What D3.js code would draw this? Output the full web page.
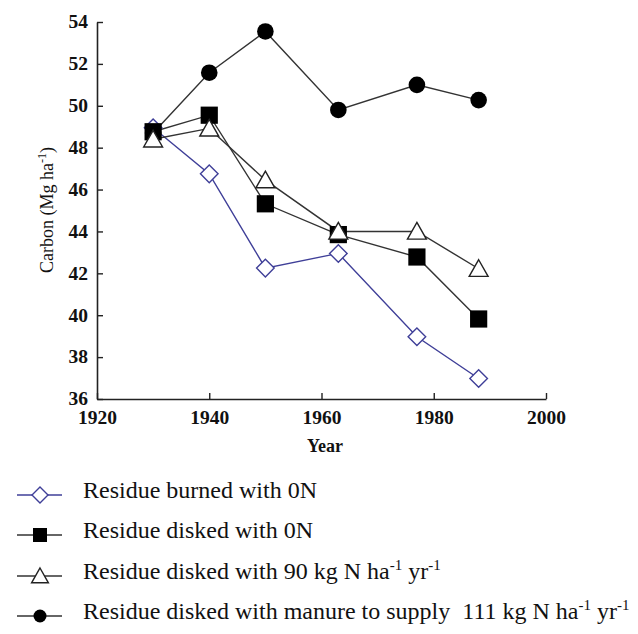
<!DOCTYPE html>
<html lang="en">
<head>
  <meta charset="UTF-8">
  <title>Carbon by year</title>
  <script src="https://d3js.org/d3.v7.min.js"></script>
  <style>
    body { margin: 0; background: #fff; overflow: hidden; }
    text { font-family: "Liberation Serif", "DejaVu Serif", serif; }
  </style>
</head>
<body>
<div class="main"></div>
<script>

  // data
  var years = [1930, 1940, 1950, 1963, 1977, 1988];
  var burned0N = [48.95, 46.75, 42.25, 42.95, 38.97, 36.98];
  var disked0N = [48.76, 49.55, 45.32, 43.85, 42.78, 39.82];
  var disked90N = [48.4, 48.92, 46.45, 44.0, 44.0, 42.22];
  var manure111N = [48.7, 51.58, 53.55, 49.8, 51.0, 50.27];
  var xTicks = [1920, 1940, 1960, 1980, 2000];
  var yTicks = [36, 38, 40, 42, 44, 46, 48, 50, 52, 54];

  var width = 638, height = 634;

  var svg = d3.select(".main").append("svg")
          .attr("width", width)
          .attr("height", height);

  var xScale = d3.scaleLinear().domain([1920, 2000]).range([97, 546]);
  var yScale = d3.scaleLinear().domain([36, 54]).range([399, 22]);

  var xAxis = d3.axisBottom(xScale).tickValues(xTicks).tickFormat(d3.format("d"))
          .tickSizeInner(-6).tickSizeOuter(0).tickPadding(11);
  var yAxis = d3.axisLeft(yScale).tickValues(yTicks)
          .tickSizeInner(-6).tickSizeOuter(0).tickPadding(9);

  function drawAxis(axis, translate) {
    var g = svg.append("g").attr("transform", translate).call(axis);
    g.select(".domain").attr("stroke", "#222").attr("stroke-width", 1.6);
    g.selectAll(".tick line").attr("stroke", "#222").attr("stroke-width", 1.4);
    g.selectAll(".tick text").attr("fill", "#111")
            .style("font-size", "19.5px").style("font-weight", "bold")
            .style("font-family", "'Liberation Serif', serif");
    return g;
  }
  drawAxis(xAxis, "translate(0,399)");
  var yg = drawAxis(yAxis, "translate(97,0)");
  yg.selectAll(".tick text").attr("dy", "0.3em");

  svg.append("text").attr("x", 325).attr("y", 452).attr("text-anchor", "middle")
          .style("font-size", "18px").style("font-weight", "bold").attr("fill", "#111").text("Year");

  var yLabel = svg.append("text").attr("transform", "translate(53,210) rotate(-90)")
          .attr("text-anchor", "middle").style("font-size", "18px").attr("fill", "#111");
  yLabel.append("tspan").text("Carbon (Mg ha");
  yLabel.append("tspan").attr("dy", -7).style("font-size", "12px").text("-1");
  yLabel.append("tspan").attr("dy", 7).text(")");

  var blue = "#3f3f98", dark = "#333";

  var series = [
    {values: burned0N, color: blue, shape: "diamond"},
    {values: disked0N, color: dark, shape: "square"},
    {values: disked90N, color: dark, shape: "triangle"},
    {values: manure111N, color: dark, shape: "circle"}
  ];

  var line = d3.line()
          .x(function(d, i) { return xScale(years[i]); })
          .y(function(d) { return yScale(d); });

  // s = half size of the marker
  function marker(g, shape, color, x, y, s) {
    if (shape == "diamond") {
      g.append("path").attr("d", "M0," + (-s) + "L" + s + ",0L0," + s + "L" + (-s) + ",0Z")
              .attr("transform", "translate(" + x + "," + y + ")")
              .attr("fill", "#fff").attr("stroke", color).attr("stroke-width", 1.4);
    } else if (shape == "square") {
      g.append("rect").attr("x", x - s).attr("y", y - s).attr("width", 2 * s).attr("height", 2 * s)
              .attr("fill", "#000");
    } else if (shape == "triangle") {
      g.append("path").attr("d", "M0," + (-s) + "L" + (s * 1.05) + "," + (s * 0.85) + "L" + (-s * 1.05) + "," + (s * 0.85) + "Z")
              .attr("transform", "translate(" + x + "," + y + ")")
              .attr("fill", "#fff").attr("stroke", "#222").attr("stroke-width", 1.4);
    } else {
      g.append("circle").attr("cx", x).attr("cy", y).attr("r", s).attr("fill", "#000");
    }
  }

  var sizes = {diamond: 8.8, square: 8.6, triangle: 9, circle: 8.3};

  // lines first, then markers
  var order = [3, 0, 1, 2];
  order.forEach(function(k) {
    var s = series[k];
    svg.append("path").datum(s.values).attr("d", line)
            .attr("fill", "none").attr("stroke", s.color).attr("stroke-width", 1.4);
  });
  order.forEach(function(k) {
    var s = series[k];
    var g = svg.append("g");
    s.values.forEach(function(v, i) {
      marker(g, s.shape, s.color, xScale(years[i]), yScale(v), sizes[s.shape]);
    });
  });

  // legend
  var legendLabels = [
    ["Residue burned with 0N"],
    ["Residue disked with 0N"],
    ["Residue disked with 90 kg N ha", "-1", " yr", "-1"],
    ["Residue disked with manure to supply\u00a0 111 kg N ha", "-1", " yr", "-1"]
  ];
  var legendY = [495, 535, 576, 616];
  var legendSizes = {diamond: 8, square: 7, triangle: 8, circle: 6.5};

  series.forEach(function(s, i) {
    var g = svg.append("g");
    var y = legendY[i];
    g.append("line").attr("x1", 17).attr("x2", 62).attr("y1", y).attr("y2", y)
            .attr("stroke", s.color).attr("stroke-width", 1.4);
    marker(g, s.shape, s.color, 40, y, legendSizes[s.shape]);
    var t = g.append("text").attr("x", 83).attr("y", y + 3)
            .style("font-size", "24px").attr("fill", "#111");
    legendLabels[i].forEach(function(part, j) {
      var ts = t.append("tspan").text(part);
      if (j % 2 == 1) ts.attr("dy", -9).style("font-size", "15px");
      else if (j > 0) ts.attr("dy", 9);
    });
  });

</script>
</body>
</html>
